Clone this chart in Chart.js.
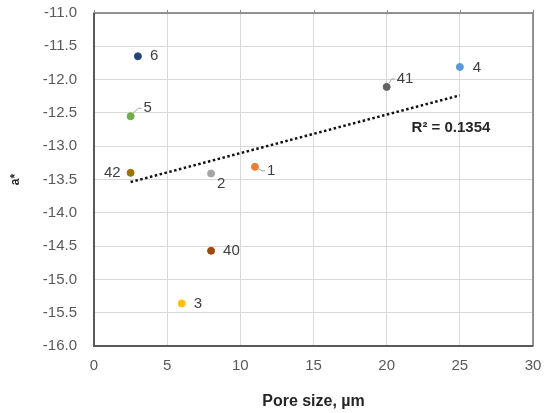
<!DOCTYPE html>
<html lang="en">
<head>
    <meta charset="UTF-8">
    <title>a* vs pore size</title>
    <style>
        html, body { margin: 0; padding: 0; background: #fff; }
        #wrap { width: 552px; height: 413px; position: relative; }
    </style>
</head>
<body>
<div id="wrap">
    <canvas id="grafico"></canvas>
</div>

<script src="https://cdn.jsdelivr.net/npm/chart.js"></script>
<script type="text/javascript">
    // samples
    var muestras = ['1', '2', '3', '4', '5', '6', '40', '41', '42'];
    var poro = [11, 8, 6, 25, 2.5, 3, 8, 20, 2.5];
    var aEstrella = [-13.31, -13.41, -15.36, -11.81, -12.55, -11.65, -14.57, -12.11, -13.40];
    var colores = ['#ED7D31', '#A5A5A5', '#FFC000', '#5B9BD5', '#70AD47', '#264478', '#9E480E', '#636363', '#997300'];
    var textoR2 = 'R\u00B2 = 0.1354';

    // least squares fit for the dotted trend line
    function ajuste(x, y) {
        var n = x.length, mx = 0, my = 0, sxy = 0, sxx = 0;
        for (var i = 0; i < n; i++) { mx += x[i]; my += y[i]; }
        mx /= n; my /= n;
        for (var i = 0; i < n; i++) {
            sxy += (x[i] - mx) * (y[i] - my);
            sxx += (x[i] - mx) * (x[i] - mx);
        }
        var m = sxy / sxx;
        return { m: m, b: my - m * mx };
    }
    var fit = ajuste(poro, aEstrella);
    var xMin = Math.min.apply(null, poro), xMax = Math.max.apply(null, poro);
    var tendencia = [
        { x: xMin, y: fit.m * xMin + fit.b },
        { x: xMax, y: fit.m * xMax + fit.b }
    ];

    var puntos = poro.map(function (x, i) { return { x: x, y: aEstrella[i] }; });

    // where each label sits relative to its point, and which ones get a leader line
    var etiquetas = [
        { dx: 12, dy: 4, lider: true },
        { dx: 6, dy: 10, lider: false },
        { dx: 12, dy: 0, lider: false },
        { dx: 13, dy: 1, lider: false },
        { dx: 13, dy: -8, lider: true },
        { dx: 12, dy: 0, lider: false },
        { dx: 12, dy: 0, lider: false },
        { dx: 10, dy: -8, lider: true },
        { dx: -10, dy: 0, lider: false, izq: true }
    ];

    var marco = {
        id: 'marco',
        beforeDatasetsDraw: function (chart) {
            var a = chart.chartArea, ctx = chart.ctx;
            ctx.save();
            ctx.strokeStyle = '#737373';
            ctx.lineWidth = 1.5;
            ctx.strokeRect(a.left, a.top, a.right - a.left, a.bottom - a.top);
            ctx.strokeStyle = '#595959';
            ctx.lineWidth = 2;
            ctx.beginPath();
            ctx.moveTo(a.left, a.top);
            ctx.lineTo(a.left, a.bottom);
            ctx.lineTo(a.right, a.bottom);
            ctx.stroke();
            // little tick marks above the top edge
            ctx.strokeStyle = '#8c8c8c';
            ctx.lineWidth = 1;
            chart.scales.x.ticks.forEach(function (t) {
                var x = Math.round(chart.scales.x.getPixelForValue(t.value)) + 0.5;
                ctx.beginPath();
                ctx.moveTo(x, a.top - 3);
                ctx.lineTo(x, a.top);
                ctx.stroke();
            });
            ctx.restore();
        },
        afterDatasetsDraw: function (chart) {
            var ctx = chart.ctx;
            var sx = chart.scales.x, sy = chart.scales.y;
            ctx.save();
            ctx.font = '15px "Liberation Sans", Arial, sans-serif';
            ctx.textBaseline = 'middle';
            for (var i = 0; i < muestras.length; i++) {
                var px = sx.getPixelForValue(poro[i]);
                var py = sy.getPixelForValue(aEstrella[i]);
                var e = etiquetas[i];
                var tx = px + e.dx, ty = py + e.dy;
                if (e.lider) {
                    ctx.strokeStyle = '#a6a6a6';
                    ctx.lineWidth = 1;
                    ctx.beginPath();
                    ctx.moveTo(px + 2, py - (e.dy < 0 ? 3 : -1));
                    ctx.lineTo(tx - 5, ty);
                    ctx.lineTo(tx - 2, ty);
                    ctx.stroke();
                }
                ctx.fillStyle = '#404040';
                ctx.textAlign = e.izq ? 'right' : 'left';
                ctx.fillText(muestras[i], tx, ty);
            }
            // R² next to the trend line
            ctx.font = 'bold 15px "Liberation Sans", Arial, sans-serif';
            ctx.fillStyle = '#262626';
            ctx.textAlign = 'left';
            ctx.fillText(textoR2, sx.getPixelForValue(21.7), sy.getPixelForValue(-12.73));
            ctx.restore();
        }
    };

    Chart.defaults.font.family = '"Liberation Sans", Arial, sans-serif';

    new Chart(document.getElementById('grafico'), {
        type: 'scatter',
        data: {
            datasets: [{
                label: 'a*',
                data: puntos,
                pointBackgroundColor: colores,
                pointBorderColor: colores,
                pointRadius: 3.5,
                pointBorderWidth: 1
            }, {
                type: 'line',
                label: 'Tendencia',
                data: tendencia,
                borderColor: '#111',
                borderWidth: 2.5,
                borderDash: [2.5, 2.5],
                pointRadius: 0,
                fill: false
            }]
        },
        options: {
            responsive: true,
            maintainAspectRatio: false,
            animation: false,
            layout: { padding: { left: 8, right: 19, top: 13, bottom: 2 } },
            plugins: {
                legend: { display: false },
                tooltip: { enabled: false }
            },
            scales: {
                x: {
                    type: 'linear',
                    min: 0,
                    max: 30,
                    ticks: { stepSize: 5, color: '#595959', font: { size: 15 }, padding: 11 },
                    grid: { color: '#d9d9d9', drawTicks: false },
                    border: { display: false },
                    title: {
                        display: true,
                        text: 'Pore size, \u00B5m',
                        color: '#262626',
                        font: { size: 16, weight: 'bold' },
                        padding: { top: 12, bottom: 0 }
                    },
                    afterFit: function (s) {
                        s.height = 65;
                        s.paddingLeft = 0;
                        s.paddingRight = 0;
                    }
                },
                y: {
                    min: -16,
                    max: -11,
                    ticks: {
                        stepSize: 0.5,
                        color: '#595959',
                        font: { size: 15 },
                        padding: 17,
                        callback: function (v) { return v.toFixed(1); }
                    },
                    grid: { color: '#d9d9d9', drawTicks: false },
                    border: { display: false },
                    title: {
                        display: true,
                        text: 'a*',
                        color: '#262626',
                        font: { size: 12, weight: 'bold' },
                        padding: 0
                    },
                    afterFit: function (s) {
                        s.width = 86;
                        s.paddingTop = 0;
                        s.paddingBottom = 0;
                    }
                }
            }
        },
        plugins: [marco]
    });
</script>
</body>
</html>
